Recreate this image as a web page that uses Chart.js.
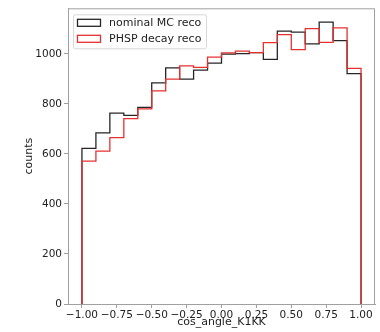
<!DOCTYPE html>
<html>
<head>
<meta charset="utf-8">
<script src="https://cdn.jsdelivr.net/npm/chart.js@4/dist/chart.umd.min.js"></script>
<style>
  html, body { margin: 0; padding: 0; background: #fff; }
  #wrap { width: 380px; height: 332px; }
</style>
</head>
<body>
<div id="wrap"><canvas id="hist"></canvas></div>
<script>
// cos_angle_K1KK histograms, 20 bins from -1 to 1

const binEdges = [-1.0, -0.9, -0.8, -0.7, -0.6, -0.5, -0.4, -0.3, -0.2, -0.1,
  0.0, 0.1, 0.2, 0.3, 0.4, 0.5, 0.6, 0.7, 0.8, 0.9, 1.0];

const nominalCounts = [622, 684, 763, 754, 786, 884, 944, 899, 935, 963,
  999, 1001, 1005, 978, 1091, 1087, 1040, 1127, 1053, 921];

const phspCounts = [571, 611, 665, 741, 780, 852, 899, 952, 946, 987,
  1004, 1011, 1005, 1045, 1077, 1017, 1101, 1046, 1104, 942];

const xTicks = [-1.0, -0.75, -0.5, -0.25, 0.0, 0.25, 0.5, 0.75, 1.0];
const yTicks = [0, 200, 400, 600, 800, 1000];

const FONT = "'DejaVu Sans', sans-serif";
const frameColor = '#a0a0a0';

// turn bin counts into the outline of a step histogram
function stepPoints(counts) {
  const pts = [{ x: binEdges[0], y: 0 }];
  counts.forEach((c, i) => {
    pts.push({ x: binEdges[i], y: c });
    pts.push({ x: binEdges[i + 1], y: c });
  });
  pts.push({ x: binEdges[binEdges.length - 1], y: 0 });
  return pts;
}

// frame + legend box drawn like matplotlib
const framePlugin = {
  id: 'frame',
  afterDraw(chart) {
    const { ctx, chartArea: a } = chart;
    ctx.save();
    ctx.strokeStyle = frameColor;
    ctx.lineWidth = 1;
    ctx.strokeRect(a.left + 0.5, a.top + 0.5, a.right - a.left - 1, a.bottom - a.top);

    // legend
    const lx = a.left + 5, ly = a.top + 6, lw = 133, lh = 34;
    ctx.fillStyle = 'rgba(255,255,255,0.8)';
    ctx.strokeStyle = '#d8d8d8';
    ctx.beginPath();
    ctx.roundRect(lx + 0.5, ly + 0.5, lw, lh, 2);
    ctx.fill();
    ctx.stroke();
    ctx.font = '11px ' + FONT;
    ctx.textBaseline = 'middle';
    const items = [chart.data.datasets[1], chart.data.datasets[0]];
    items.forEach((ds, i) => {
      const y = ly + 8.5 + i * 16;
      ctx.strokeStyle = ds.borderColor;
      ctx.lineWidth = 1.3;
      ctx.strokeRect(lx + 4.5, y - 3.5, 23, 7);
      ctx.fillStyle = '#222';
      ctx.fillText(ds.label, lx + 36, y + 0.5);
    });
    ctx.restore();
  }
};

new Chart(document.getElementById('hist'), {
  type: 'line',
  data: {
    datasets: [
      {
        label: 'PHSP decay reco',
        data: stepPoints(phspCounts),
        borderColor: '#e53030',
        borderWidth: 1.3,
        pointRadius: 0,
        tension: 0,
        fill: false,
        order: 0
      },
      {
        label: 'nominal MC reco',
        data: stepPoints(nominalCounts),
        borderColor: '#262626',
        borderWidth: 1.3,
        pointRadius: 0,
        tension: 0,
        fill: false,
        order: 1
      }
    ]
  },
  options: {
    responsive: true,
    maintainAspectRatio: false,
    animation: false,
    layout: { padding: { top: 6, right: 5, left: 0, bottom: 0 } },
    plugins: {
      legend: { display: false },
      tooltip: { enabled: false }
    },
    scales: {
      x: {
        type: 'linear',
        min: -1.1,
        max: 1.1,
        afterBuildTicks: s => { s.ticks = xTicks.map(v => ({ value: v })); },
        afterFit: s => { s.height = 28; },
        grid: { drawOnChartArea: false, tickLength: 4, tickColor: frameColor, color: frameColor },
        border: { color: frameColor },
        ticks: {
          color: '#222',
          padding: 1,
          maxRotation: 0,
          autoSkip: false,
          font: { family: FONT, size: 10.5 },
          callback: v => v.toFixed(2).replace('-', '\u2212')
        },
        title: {
          display: true,
          text: 'cos_angle_K1KK',
          color: '#222',
          padding: { top: 0, bottom: 3 },
          font: { family: FONT, size: 11 }
        }
      },
      y: {
        min: 0,
        max: 1182,
        afterBuildTicks: s => { s.ticks = yTicks.map(v => ({ value: v })); },
        afterFit: s => { s.width = 68; },
        grid: { drawOnChartArea: false, tickLength: 4, tickColor: frameColor, color: frameColor },
        border: { color: frameColor },
        ticks: {
          color: '#222',
          padding: 2,
          font: { family: FONT, size: 10.5 },
          callback: v => String(v)
        },
        title: {
          display: true,
          text: 'counts',
          color: '#222',
          padding: { top: 23, bottom: 0 },
          font: { family: FONT, size: 11 }
        }
      }
    }
  },
  plugins: [framePlugin]
});
</script>
</body>
</html>
